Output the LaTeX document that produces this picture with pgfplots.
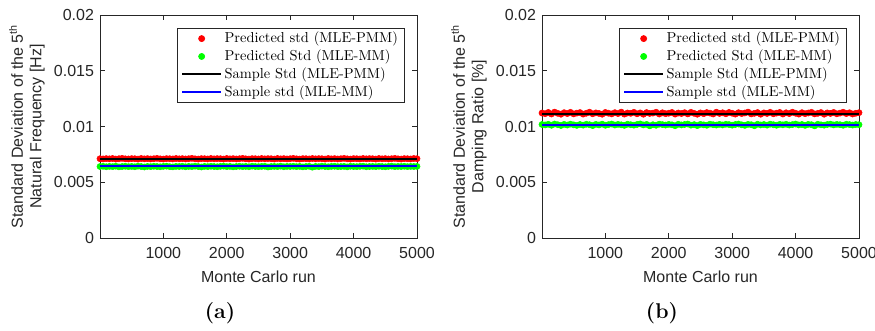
\documentclass[border=0pt]{standalone}
\usepackage{pgfplots}
\pgfplotsset{compat=1.18}
\usepackage{pgfplotstable}
\usepackage{fontspec}
\setsansfont{Liberation Sans}
\definecolor{mgray}{RGB}{38,38,38}

\pgfplotstableread{
x ar ag br bg
1 0.00711 0.00641 0.01121 0.01018
50 0.00709 0.00643 0.01115 0.01014
100 0.00712 0.00639 0.01126 0.01020
150 0.00710 0.00642 0.01112 0.01011
200 0.00713 0.00640 0.01129 0.01022
250 0.00708 0.00644 0.01118 0.01016
300 0.00711 0.00638 0.01110 0.01009
350 0.00714 0.00641 0.01124 0.01019
400 0.00710 0.00643 0.01116 0.01013
450 0.00709 0.00640 0.01127 0.01021
500 0.00712 0.00642 0.01113 0.01015
550 0.00711 0.00639 0.01120 0.01010
600 0.00708 0.00644 0.01125 0.01018
650 0.00713 0.00641 0.01111 0.01012
700 0.00710 0.00637 0.01119 0.01020
750 0.00712 0.00642 0.01128 0.01016
800 0.00709 0.00640 0.01114 0.01008
850 0.00711 0.00643 0.01122 0.01019
900 0.00714 0.00641 0.01117 0.01014
950 0.00710 0.00639 0.01110 0.01021
1000 0.00708 0.00642 0.01126 0.01011
1050 0.00712 0.00644 0.01119 0.01017
1100 0.00711 0.00640 0.01113 0.01022
1150 0.00709 0.00638 0.01124 0.01013
1200 0.00713 0.00642 0.01116 0.01019
1250 0.00710 0.00641 0.01129 0.01015
1300 0.00712 0.00643 0.01111 0.01010
1350 0.00709 0.00639 0.01121 0.01020
1400 0.00711 0.00642 0.01118 0.01016
1450 0.00714 0.00640 0.01127 0.01012
1500 0.00710 0.00644 0.01114 0.01018
1550 0.00708 0.00641 0.01122 0.01023
1600 0.00712 0.00637 0.01110 0.01014
1650 0.00711 0.00642 0.01125 0.01019
1700 0.00709 0.00640 0.01117 0.01006
1750 0.00713 0.00643 0.01120 0.01016
1800 0.00710 0.00641 0.01128 0.01011
1850 0.00712 0.00639 0.01112 0.01021
1900 0.00711 0.00642 0.01123 0.01017
1950 0.00708 0.00644 0.01115 0.01013
2000 0.00713 0.00640 0.01119 0.01019
2050 0.00710 0.00642 0.01126 0.01015
2100 0.00712 0.00638 0.01111 0.01007
2150 0.00709 0.00641 0.01121 0.01020
2200 0.00711 0.00643 0.01116 0.01014
2250 0.00714 0.00640 0.01124 0.01018
2300 0.00710 0.00642 0.01113 0.01022
2350 0.00708 0.00639 0.01127 0.01012
2400 0.00712 0.00644 0.01118 0.01017
2450 0.00711 0.00641 0.01110 0.01008
2500 0.00709 0.00640 0.01122 0.01019
2550 0.00713 0.00642 0.01115 0.01015
2600 0.00710 0.00643 0.01125 0.01011
2650 0.00712 0.00637 0.01120 0.01021
2700 0.00711 0.00641 0.01112 0.01016
2750 0.00708 0.00642 0.01128 0.01013
2800 0.00713 0.00640 0.01117 0.01019
2850 0.00710 0.00644 0.01123 0.01014
2900 0.00712 0.00639 0.01114 0.01020
2950 0.00709 0.00642 0.01126 0.01017
3000 0.00711 0.00641 0.01119 0.01012
3050 0.00714 0.00643 0.01111 0.01018
3100 0.00710 0.00640 0.01124 0.01022
3150 0.00708 0.00642 0.01116 0.01015
3200 0.00712 0.00638 0.01121 0.01010
3250 0.00711 0.00641 0.01129 0.01019
3300 0.00709 0.00643 0.01113 0.01016
3350 0.00713 0.00635 0.01118 0.01007
3400 0.00710 0.00642 0.01125 0.01020
3450 0.00712 0.00640 0.01110 0.01014
3500 0.00711 0.00644 0.01122 0.01018
3550 0.00708 0.00641 0.01117 0.01012
3600 0.00713 0.00639 0.01127 0.01021
3650 0.00710 0.00642 0.01114 0.01016
3700 0.00712 0.00643 0.01120 0.01011
3750 0.00709 0.00640 0.01126 0.01019
3800 0.00711 0.00641 0.01112 0.01015
3850 0.00714 0.00642 0.01123 0.01020
3900 0.00710 0.00638 0.01116 0.01013
3950 0.00708 0.00643 0.01128 0.01017
4000 0.00712 0.00641 0.01119 0.01022
4050 0.00711 0.00640 0.01111 0.01014
4100 0.00709 0.00642 0.01124 0.01018
4150 0.00713 0.00644 0.01115 0.01010
4200 0.00710 0.00639 0.01121 0.01019
4250 0.00712 0.00641 0.01127 0.01016
4300 0.00711 0.00642 0.01113 0.01006
4350 0.00708 0.00640 0.01118 0.01020
4400 0.00713 0.00643 0.01125 0.01015
4450 0.00710 0.00641 0.01110 0.01012
4500 0.00712 0.00639 0.01122 0.01018
4550 0.00709 0.00642 0.01117 0.01021
4600 0.00711 0.00644 0.01126 0.01014
4650 0.00714 0.00640 0.01114 0.01019
4700 0.00710 0.00642 0.01120 0.01016
4750 0.00708 0.00641 0.01128 0.01011
4800 0.00712 0.00643 0.01116 0.01020
4850 0.00711 0.00640 0.01123 0.01017
4900 0.00709 0.00642 0.01112 0.01013
4950 0.00713 0.00641 0.01119 0.01018
5000 0.00711 0.00642 0.01124 0.01016
}\datatab

\pgfplotstableread{
x a b
1 0.00705 0.01112
5000 0.00705 0.01112
}\blackline
\pgfplotstableread{
x a b
1 0.00645 0.01016
5000 0.00645 0.01016
}\blueline

\pgfplotsset{
 mystyle/.style={
  scale only axis, width=237.75pt, height=167.25pt,
  xmin=1, xmax=5000, ymin=0, ymax=0.02,
  scaled y ticks=false, scaled x ticks=false,
  xtick={1000,2000,3000,4000,5000},
  xticklabels={1000,2000,3000,4000,5000},
  ytick={0,0.005,0.01,0.015,0.02},
  yticklabels={0,0.005,0.01,0.015,0.02},
  tick align=inside, major tick length=3.5pt,
  axis line style={mgray, line width=0.5pt},
  tick style={mgray, line width=0.5pt},
  ticklabel style={font=\sffamily\fontsize{12}{14}\selectfont, text=mgray},
  xticklabel style={yshift=-3.5pt},
  yticklabel style={xshift=-1pt},
  label style={font=\sffamily\fontsize{12}{14}\selectfont, text=mgray},
  ylabel style={align=center},
  xlabel={Monte Carlo run},
  xlabel style={at={(axis description cs:0.5,0)}, anchor=center, yshift=-29.25pt},
  clip=false, clip marker paths=true,
  legend cell align=left,
  legend style={at={(1,1)}, anchor=north east, xshift=-9pt, yshift=-9.75pt,
    draw=mgray, line width=0.5pt,
    font=\rmfamily\fontsize{10.8}{13}\selectfont,
    inner xsep=3pt, inner ysep=1pt, row sep=0pt,
    nodes={inner ysep=1.9pt, inner xsep=2pt}},
  legend image code/.code={\draw[mark repeat=2,mark phase=2,#1] plot coordinates {(0pt,0pt) (14.5pt,0pt) (29pt,0pt)};},
 },
 redm/.style={only marks, mark=*, mark size=2.3pt, mark options={draw=red, fill=red}},
 greenm/.style={only marks, mark=*, mark size=2.3pt, mark options={draw=green, fill=green}},
}

\begin{document}
\begin{tikzpicture}
\begin{axis}[mystyle, at={(0pt,0pt)}, anchor=south west,
  ylabel={Standard Deviation of the 5\textsuperscript{th}\\Natural Frequency [Hz]}]
\addplot[redm] table[x=x, y=ar] {\datatab};
\addlegendentry{Predicted std (MLE-PMM)}
\addplot[greenm] table[x=x, y=ag] {\datatab};
\addlegendentry{Predicted Std (MLE-MM)}
\addplot[black, line width=1.5pt] table[x=x, y=a] {\blackline};
\addlegendentry{Sample Std (MLE-PMM)}
\addplot[blue, line width=1.3pt] table[x=x, y=a] {\blueline};
\addlegendentry{Sample std (MLE-MM)}
\end{axis}
\begin{axis}[mystyle, at={(331.5pt,0pt)}, anchor=south west,
  ylabel={Standard Deviation of the 5\textsuperscript{th}\\Damping Ratio [\%]}]
\addplot[redm] table[x=x, y=br] {\datatab};
\addlegendentry{Predicted std (MLE-PMM)}
\addplot[greenm] table[x=x, y=bg] {\datatab};
\addlegendentry{Predicted Std (MLE-MM)}
\addplot[black, line width=1.5pt] table[x=x, y=b] {\blackline};
\addlegendentry{Sample Std (MLE-PMM)}
\addplot[blue, line width=1.3pt] table[x=x, y=b] {\blueline};
\addlegendentry{Sample std (MLE-MM)}
\end{axis}
\node[font=\rmfamily\bfseries\fontsize{16}{18}\selectfont] at (90pt,-56.25pt) {(a)};
\node[font=\rmfamily\bfseries\fontsize{16}{18}\selectfont] at (421.5pt,-56.25pt) {(b)};
\pgfresetboundingbox
\path[use as bounding box] (-75pt,-69.75pt) rectangle (581.25pt,178.5pt);
\end{tikzpicture}
\end{document}
